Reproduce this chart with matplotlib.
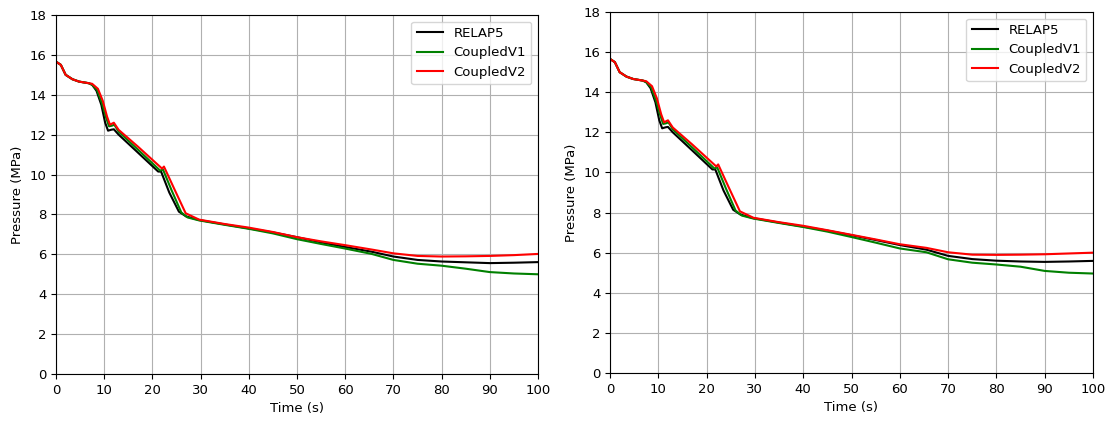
import matplotlib
matplotlib.use("Agg")
import matplotlib.pyplot as plt

plt.rcParams["font.size"] = 9.5

# time (s) and pressure (MPa)
t_relap = [0, 1, 2, 3.4, 4.8, 6.8, 7.5, 8.4, 9.4, 10.2, 10.8, 11.5, 12.0, 13.0,
           17, 21.2, 21.8, 23.5, 25.5, 27, 29.7, 35, 40, 45, 50, 55, 60, 65.5,
           70, 75, 80, 85, 90, 95, 100]
p_relap = [15.66, 15.5, 15.0, 14.78, 14.66, 14.58, 14.5, 14.2, 13.5, 12.6, 12.2,
           12.25, 12.27, 12.0, 11.1, 10.15, 10.15, 9.1, 8.14, 7.9, 7.72, 7.5,
           7.3, 7.1, 6.86, 6.6, 6.37, 6.13, 5.89, 5.72, 5.64, 5.6, 5.56, 5.58, 5.61]

t_v1 = [0, 1, 2, 3.4, 4.8, 6.8, 7.5, 8.5, 9.5, 10.4, 11.0, 11.6, 12.1, 13.0,
        17, 21.6, 22.2, 24, 26, 27.3, 29.7, 35, 40, 45, 50, 55, 60, 65.5,
        70, 75, 80, 85, 90, 95, 100]
p_v1 = [15.66, 15.5, 15.0, 14.78, 14.66, 14.58, 14.5, 14.25, 13.6, 12.85, 12.42,
        12.45, 12.5, 12.15, 11.25, 10.2, 10.25, 9.2, 8.1, 7.85, 7.7, 7.48,
        7.28, 7.05, 6.76, 6.52, 6.29, 6.02, 5.72, 5.53, 5.43, 5.28, 5.11, 5.04, 5.0]

t_v2 = [0, 1, 2, 3.4, 4.8, 6.8, 7.5, 8.7, 9.7, 10.6, 11.2, 12.0, 13.0,
        17, 22.0, 22.4, 24.5, 26.9, 29.7, 35, 40, 45, 50, 55, 60, 65.5,
        70, 75, 80, 85, 90, 95, 100]
p_v2 = [15.66, 15.5, 15.0, 14.78, 14.66, 14.58, 14.55, 14.3, 13.7, 12.9, 12.5,
        12.6, 12.24, 11.4, 10.3, 10.4, 9.3, 8.06, 7.74, 7.52, 7.34, 7.12, 6.86,
        6.65, 6.46, 6.24, 6.05, 5.92, 5.89, 5.9, 5.92, 5.96, 6.02]

# second panel: same run, slightly different late-time values
p_relap_b = p_relap[:24] + [6.87, 6.63, 6.38, 6.15, 5.84, 5.68, 5.6, 5.56, 5.54, 5.56, 5.59]
p_v1_b = p_v1[:24] + [6.78, 6.5, 6.21, 6.02, 5.67, 5.5, 5.41, 5.3, 5.09, 5.0, 4.96]
p_v2_b = p_v2[:22] + [6.89, 6.66, 6.42, 6.24, 6.02, 5.9, 5.89, 5.9, 5.92, 5.96, 6.0]

panels = [
    ([56, 15, 538, 374], p_relap, p_v1, p_v2),
    ([610, 12, 1093, 373], p_relap_b, p_v1_b, p_v2_b),
]

W, H = 1109, 421
fig = plt.figure(figsize=(W / 100, H / 100), dpi=100)

for (x0, y0, x1, y1), pr, p1, p2 in panels:
    ax = fig.add_axes([x0 / W, 1 - y1 / H, (x1 - x0) / W, (y1 - y0) / H])
    ax.plot(t_relap, pr, color="black", lw=1.5, label="RELAP5")
    ax.plot(t_v1, p1, color="green", lw=1.5, label="CoupledV1")
    ax.plot(t_v2, p2, color="red", lw=1.5, label="CoupledV2")
    ax.set_xlim(0, 100)
    ax.set_ylim(0, 18)
    ax.set_xticks(range(0, 101, 10))
    ax.set_yticks(range(0, 19, 2))
    ax.grid(True, color="#b0b0b0", lw=0.8)
    ax.set_xlabel("Time (s)")
    ax.set_ylabel("Pressure (MPa)")
    ax.legend(loc="upper right")

fig.savefig("out.png", dpi=100)
